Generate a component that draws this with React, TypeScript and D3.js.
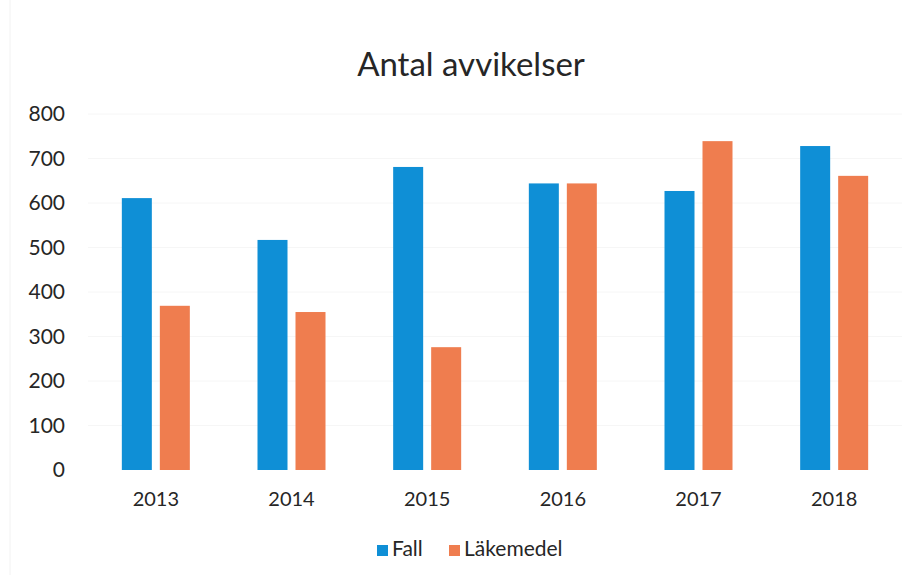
import React from "react";
import * as d3 from "d3";

const categories = ["2013", "2014", "2015", "2016", "2017", "2018"];
const seriesNames = ["Fall", "Läkemedel"];
const fallValues = [611, 517, 681, 644, 627, 728];
const lakemedelValues = [369, 355, 276, 644, 739, 661];
const yTicks = [0, 100, 200, 300, 400, 500, 600, 700, 800];
const colors = ["#0f8fd6", "#ef7d4f"];

const W = 914;
const H = 575;
const plot = { left: 88, right: 902, top: 114, bottom: 470 };

export default function App() {
  const x = d3.scaleBand<string>().domain(categories).range([plot.left, plot.right]).paddingInner(0).paddingOuter(0);
  const y = d3.scaleLinear().domain([0, 800]).range([plot.bottom, plot.top]);
  const barW = 30;
  const gap = 8;
  const series = [fallValues, lakemedelValues];
  const font = "Lato, 'Open Sans', sans-serif";

  return (
    <div style={{ position: "absolute", left: 0, top: 0 }}>
      <svg width={W} height={H} style={{ display: "block", background: "#fff" }}>
        <line x1={10} x2={10} y1={0} y2={H} stroke="#f2f2f2" />
        <text x={471} y={76} textAnchor="middle" fontFamily={font} fontSize={33} fill="#262626">
          Antal avvikelser
        </text>
        {yTicks.map((t) => (
          <g key={t}>
            {t > 0 && (
              <line x1={plot.left} x2={plot.right} y1={y(t)} y2={y(t)} stroke="#f6f6f6" strokeWidth={1} />
            )}
            <text x={65} y={y(t)} dy="0.35em" textAnchor="end" fontFamily={font} fontSize={21} fill="#262626">
              {t}
            </text>
          </g>
        ))}
        {categories.map((c, i) => {
          const cx = (x(c) as number) + x.bandwidth() / 2;
          return (
            <g key={c}>
              {series.map((vals, s) => {
                const bx = s === 0 ? cx - gap / 2 - barW : cx + gap / 2;
                return (
                  <rect key={s} x={bx} y={y(vals[i])} width={barW} height={y(0) - y(vals[i])} fill={colors[s]} />
                );
              })}
              <text x={cx} y={506} textAnchor="middle" fontFamily={font} fontSize={20} fill="#262626">
                {c}
              </text>
            </g>
          );
        })}
        <g>
          <rect x={377} y={545} width={11} height={11} fill={colors[0]} />
          <text x={392} y={556} fontFamily={font} fontSize={21} fill="#262626">{seriesNames[0]}</text>
          <rect x={449} y={545} width={11} height={11} fill={colors[1]} />
          <text x={464} y={556} fontFamily={font} fontSize={21} fill="#262626">{seriesNames[1]}</text>
        </g>
      </svg>
    </div>
  );
}
